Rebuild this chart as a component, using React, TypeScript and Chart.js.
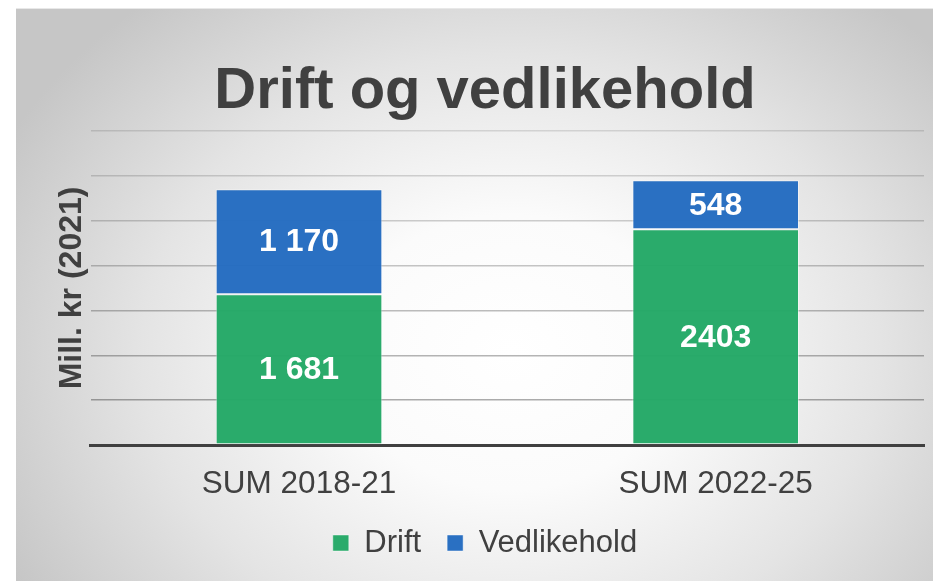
import React, { useEffect, useRef } from "react";
import { Chart, registerables } from "chart.js";

Chart.register(...registerables);

const categories = ["SUM 2018-21", "SUM 2022-25"];
const driftValues = [1681, 2403];
const vedlikeholdValues = [1170, 548];
const driftLabels = ["1 681", "2403"];
const vedlikeholdLabels = ["1 170", "548"];
const yTicks = [0, 500, 1000, 1500, 2000, 2500, 3000, 3500];

const FONT = "'Liberation Sans', Arial, sans-serif";
const TEXT = "#404040";

const valueLabelPlugin = {
  id: "valueLabels",
  afterDatasetsDraw(chart: any) {
    const ctx = chart.ctx;
    const labelSets = [driftLabels, vedlikeholdLabels];
    ctx.save();
    ctx.font = `bold 32px ${FONT}`;
    ctx.fillStyle = "#ffffff";
    ctx.textAlign = "center";
    ctx.textBaseline = "middle";
    chart.data.datasets.forEach((_ds: any, i: number) => {
      const meta = chart.getDatasetMeta(i);
      meta.data.forEach((el: any, j: number) => {
        const { x, y, base } = el.getProps(["x", "y", "base"], true);
        ctx.fillText(labelSets[i][j], x, (y + base) / 2 + 1);
      });
    });
    ctx.restore();
  },
};

export default function App() {
  const ref = useRef<HTMLCanvasElement | null>(null);

  useEffect(() => {
    if (!ref.current) return;
    const gridAlpha = (v: number) => {
      const t = v / yTicks[yTicks.length - 1];
      return `rgba(0,0,0,${(0.36 - 0.24 * t).toFixed(3)})`;
    };
    const chart = new Chart(ref.current, {
      type: "bar",
      data: {
        labels: categories,
        datasets: [
          {
            label: "Drift",
            data: driftValues,
            backgroundColor: "rgba(35,168,102,0.97)",
            borderColor: "rgba(255,255,255,0.45)",
            borderWidth: 1,
            borderSkipped: false,
            categoryPercentage: 0.4,
            barPercentage: 1,
          },
          {
            label: "Vedlikehold",
            data: vedlikeholdValues,
            backgroundColor: "rgba(35,107,192,0.97)",
            borderColor: "rgba(255,255,255,0.45)",
            borderWidth: 1,
            borderSkipped: false,
            categoryPercentage: 0.4,
            barPercentage: 1,
          },
        ],
      },
      options: {
        animation: false,
        responsive: false,
        devicePixelRatio: 1,
        layout: { padding: { left: 30, right: 9, top: 0, bottom: 13.5 } },
        plugins: {
          title: {
            display: true,
            text: "Drift og vedlikehold",
            color: TEXT,
            font: { family: FONT, size: 58, weight: "bold" },
            padding: { top: 48.2, bottom: 4.1 },
          },
          legend: {
            position: "bottom",
            labels: {
              color: TEXT,
              font: { family: FONT, size: 31 },
              boxWidth: 16,
              boxHeight: 16,
              padding: 26,
            },
          },
          tooltip: { enabled: false },
        },
        scales: {
          x: {
            stacked: true,
            grid: { display: false, drawTicks: false },
            border: { display: true, color: "#404040", width: 3 },
            ticks: {
              color: TEXT,
              font: { family: FONT, size: 31.5 },
              padding: 20,
            },
            afterFit: (scale: any) => {
              scale.height = 56.5;
            },
          },
          y: {
            stacked: true,
            min: yTicks[0],
            max: yTicks[yTicks.length - 1],
            ticks: { display: false, stepSize: yTicks[1] - yTicks[0] },
            grid: {
              drawTicks: false,
              lineWidth: 1.5,
              color: (c: any) => gridAlpha(c.tick ? c.tick.value : 0),
            },
            border: { display: false },
            title: {
              display: true,
              text: "Mill. kr (2021)",
              color: TEXT,
              font: { family: FONT, size: 32, weight: "bold" },
              padding: { top: 7, bottom: 0 },
            },
            afterFit: (scale: any) => {
              scale.width = 44.7;
            },
          },
        },
      },
      plugins: [valueLabelPlugin],
    });
    return () => chart.destroy();
  }, []);

  return (
    <div
      style={{
        position: "fixed",
        left: 16,
        top: 8,
        width: 917,
        height: 573,
        background:
          "radial-gradient(ellipse 62% 80% at 54% 60%, #ffffff 0%, #fbfbfb 30%, #e4e4e4 65%, #c6c6c6 100%)",
        borderTop: "1px solid #e8e8e8",
        boxSizing: "border-box",
      }}
    >
      <canvas ref={ref} width={917} height={573} style={{ display: "block", position: "absolute", top: 0, left: 0 }} />
    </div>
  );
}
